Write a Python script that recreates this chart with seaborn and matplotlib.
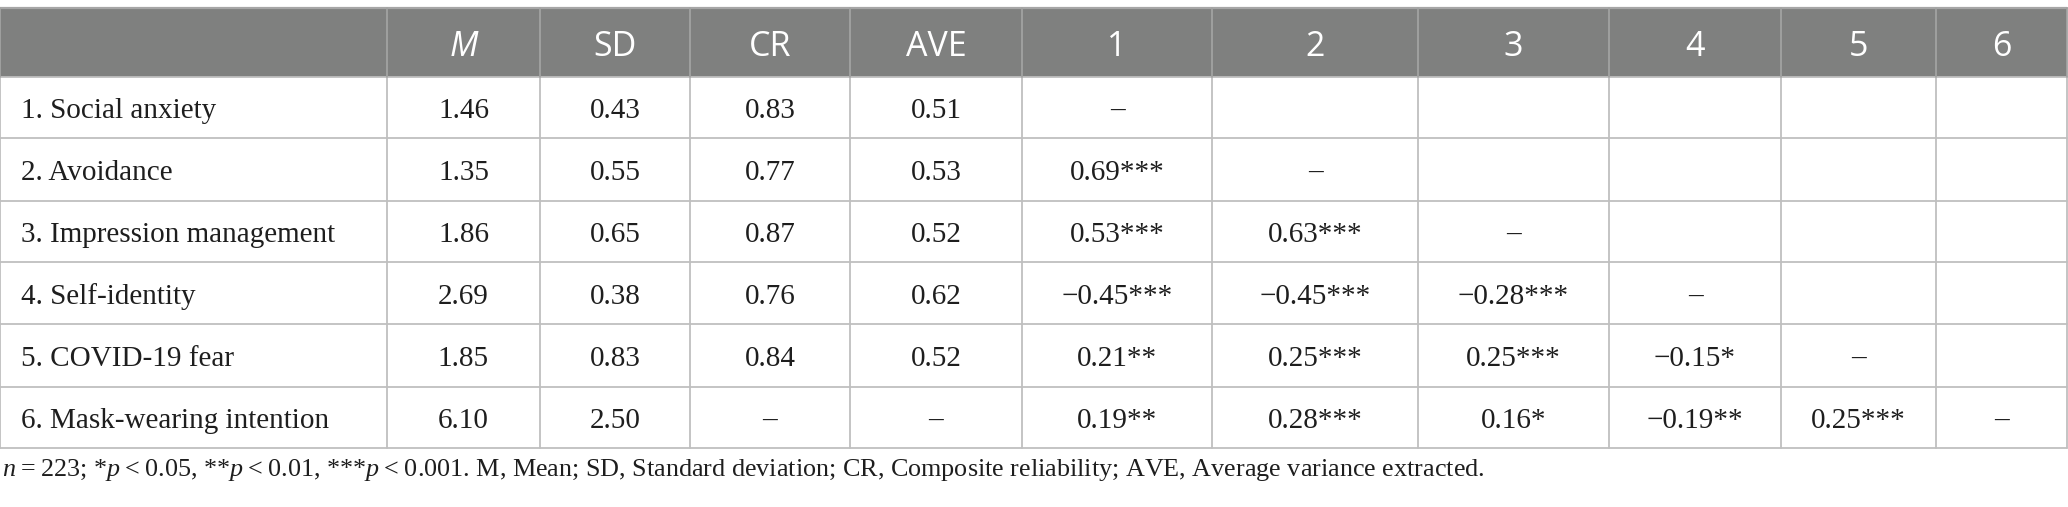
import numpy as np
import pandas as pd
import matplotlib
matplotlib.use('Agg')
import matplotlib.pyplot as plt
import seaborn as sns

# table content
variables = ['1. Social anxiety', '2. Avoidance', '3. Impression management',
             '4. Self-identity', '5. COVID-19 fear', '6. Mask-wearing intention']
headers = ['', 'M', 'SD', 'CR', 'AVE', '1', '2', '3', '4', '5', '6']
means = [1.46, 1.35, 1.86, 2.69, 1.85, 6.10]
sds = [0.43, 0.55, 0.65, 0.38, 0.83, 2.50]
crs = [0.83, 0.77, 0.87, 0.76, 0.84, None]
aves = [0.51, 0.53, 0.52, 0.62, 0.52, None]
corrs = [[],
         [0.69],
         [0.53, 0.63],
         [-0.45, -0.45, -0.28],
         [0.21, 0.25, 0.25, -0.15],
         [0.19, 0.28, 0.16, -0.19, 0.25]]
stars = [[],
         ['***'],
         ['***', '***'],
         ['***', '***', '***'],
         ['**', '***', '***', '*'],
         ['**', '***', '*', '**', '***']]
note = ('$n$\u2009=\u2009223; *$p$\u2009<\u20090.05, **$p$\u2009<\u20090.01, ***$p$\u2009<\u20090.001. '
        'M, Mean; SD, Standard deviation; CR, Composite reliability; AVE, Average variance extracted.')


def fmt(v):
    if v is None:
        return '\u2013'
    s = f'{abs(v):.2f}'
    return ('\u2212' + s) if v < 0 else s


rows = []
for i, name in enumerate(variables):
    r = [name, fmt(means[i]), fmt(sds[i]), fmt(crs[i]), fmt(aves[i])]
    for j in range(6):
        if j < i:
            r.append(fmt(corrs[i][j]) + stars[i][j])
        elif j == i:
            r.append('\u2013')
        else:
            r.append('')
    rows.append(r)
tbl = pd.DataFrame(rows, columns=headers)

sns.set_theme(style='white')
plt.rcParams['mathtext.fontset'] = 'custom'
plt.rcParams['mathtext.it'] = 'Liberation Serif:italic'
plt.rcParams['mathtext.rm'] = 'Liberation Serif'

col_edges = [0, 387, 540, 690, 850, 1022, 1212, 1418, 1609, 1781, 1936, 2067]
row_edges = [8, 77, 138, 201, 262, 324, 387, 448]
serif = ['Liberation Serif', 'DejaVu Serif']
sans = ['Open Sans', 'DejaVu Sans']
grid_c = '#bfbfbf'

fig = plt.figure(figsize=(20.68, 5.07), dpi=100)
ax = fig.add_axes([0, 0, 1, 1])
ax.set_xlim(0, 2068)
ax.set_ylim(507, 0)
ax.axis('off')

# header band
ax.add_patch(plt.Rectangle((col_edges[0], row_edges[0]), col_edges[-1] - col_edges[0],
                           row_edges[1] - row_edges[0], color='#7f807f', lw=0))

# grid lines
for y in row_edges[1:]:
    ax.plot([col_edges[0], col_edges[-1]], [y, y], color=grid_c, lw=1.3)
ax.plot([col_edges[0], col_edges[-1]], [row_edges[0], row_edges[0]], color='#a6a6a6', lw=1.6)
for x in col_edges:
    ax.plot([x, x], [row_edges[1], row_edges[-1]], color=grid_c, lw=1.3)
    ax.plot([x, x], [row_edges[0], row_edges[1]], color='#a2a3a2', lw=1.3)

# header text
for k, h in enumerate(headers):
    if not h:
        continue
    xc = (col_edges[k] + col_edges[k + 1]) / 2
    ax.text(xc, 56, h, ha='center', va='baseline', color='white', fontsize=24.5,
            family=sans, style='italic' if h == 'M' else 'normal')

# body text
for i in range(len(tbl)):
    yb = (row_edges[i + 1] + row_edges[i + 2]) / 2 + 10.5
    for k, val in enumerate(tbl.iloc[i]):
        if not val:
            continue
        if k == 0:
            ax.text(col_edges[0] + 21, yb, val, ha='left', va='baseline',
                    color='#1e1e1e', fontsize=21, family=serif)
        else:
            xc = (col_edges[k] + col_edges[k + 1]) / 2
            ax.text(xc, yb, val, ha='center', va='baseline',
                    color='#1e1e1e', fontsize=21, family=serif)

ax.text(2, 476, note, ha='left', va='baseline', color='#1e1e1e', fontsize=18.8, family=serif)

fig.savefig('out.png', dpi=100)
